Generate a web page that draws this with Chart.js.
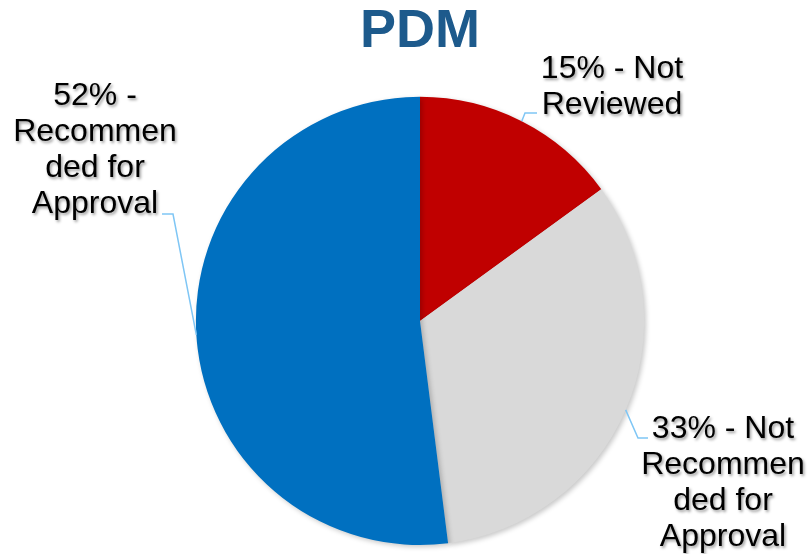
<!DOCTYPE html>
<html>
<head>
<meta charset="utf-8">
<script src="https://cdn.jsdelivr.net/npm/chart.js@4/dist/chart.umd.min.js"></script>
<style>
  html, body { margin: 0; padding: 0; background: #fff; }
  #wrap { width: 808px; height: 554px; }
</style>
</head>
<body>
<div id="wrap"><canvas id="pdmChart"></canvas></div>
<script>
// chart data
const categories = ['Not Reviewed', 'Not Recommended for Approval', 'Recommended for Approval'];
const shares = [15, 33, 52];
const labelLines = [
  ['15% - Not', 'Reviewed'],
  ['33% - Not', 'Recommen', 'ded for', 'Approval'],
  ['52% -', 'Recommen', 'ded for', 'Approval']
];
const sliceColors = ['#C00000', '#D9D9D9', '#0070C0'];

// where each label block sits: text centre x, first baseline y, leader elbow and end
const labelLayout = [
  { cx: 612, y: 78, elbow: [525, 113], end: [537, 113] },
  { cx: 723, y: 438, elbow: [638, 438], end: [648, 438] },
  { cx: 95, y: 105, elbow: [173, 214], end: [162, 214] }
];

const pieShadow = {
  id: 'pieShadow',
  beforeDatasetsDraw(chart) {
    const ctx = chart.ctx;
    ctx.save();
    ctx.shadowColor = 'rgba(0,0,0,0.22)';
    ctx.shadowBlur = 5;
    ctx.shadowOffsetX = 2;
    ctx.shadowOffsetY = 2;
  },
  afterDatasetsDraw(chart) {
    chart.ctx.restore();
  }
};

const sliceLabels = {
  id: 'sliceLabels',
  afterDraw(chart) {
    const ctx = chart.ctx;
    const arcs = chart.getDatasetMeta(0).data;
    arcs.forEach((arc, i) => {
      const lay = labelLayout[i];
      const mid = (arc.startAngle + arc.endAngle) / 2;
      const sx = arc.x + Math.cos(mid) * arc.outerRadius;
      const sy = arc.y + Math.sin(mid) * arc.outerRadius;

      ctx.save();
      ctx.strokeStyle = '#7FC6F5';
      ctx.lineWidth = 1.5;
      ctx.beginPath();
      ctx.moveTo(sx, sy);
      ctx.lineTo(lay.elbow[0], lay.elbow[1]);
      ctx.lineTo(lay.end[0], lay.end[1]);
      ctx.stroke();
      ctx.restore();

      ctx.save();
      ctx.font = '32px "Liberation Sans", Arial, sans-serif';
      ctx.fillStyle = '#000';
      ctx.textAlign = 'center';
      ctx.textBaseline = 'alphabetic';
      ctx.shadowColor = 'rgba(0,0,0,0.4)';
      ctx.shadowBlur = 3;
      ctx.shadowOffsetX = 1.5;
      ctx.shadowOffsetY = 1.5;
      labelLines[i].forEach((line, j) => {
        ctx.fillText(line, lay.cx, lay.y + j * 36);
      });
      ctx.restore();
    });
  }
};

new Chart(document.getElementById('pdmChart'), {
  type: 'pie',
  data: {
    labels: categories,
    datasets: [{
      data: shares,
      backgroundColor: sliceColors,
      borderWidth: 0
    }]
  },
  options: {
    responsive: true,
    maintainAspectRatio: false,
    animation: false,
    layout: { padding: { top: 0, bottom: 9, left: 32, right: 0 } },
    plugins: {
      legend: { display: false },
      tooltip: { enabled: false },
      title: {
        display: true,
        text: 'PDM',
        color: '#1D5A8C',
        font: { family: '"Liberation Sans", Arial, sans-serif', size: 54, weight: 'bold', lineHeight: 1.2 },
        padding: { top: 0, bottom: 32 }
      }
    }
  },
  plugins: [pieShadow, sliceLabels]
});
</script>
</body>
</html>
